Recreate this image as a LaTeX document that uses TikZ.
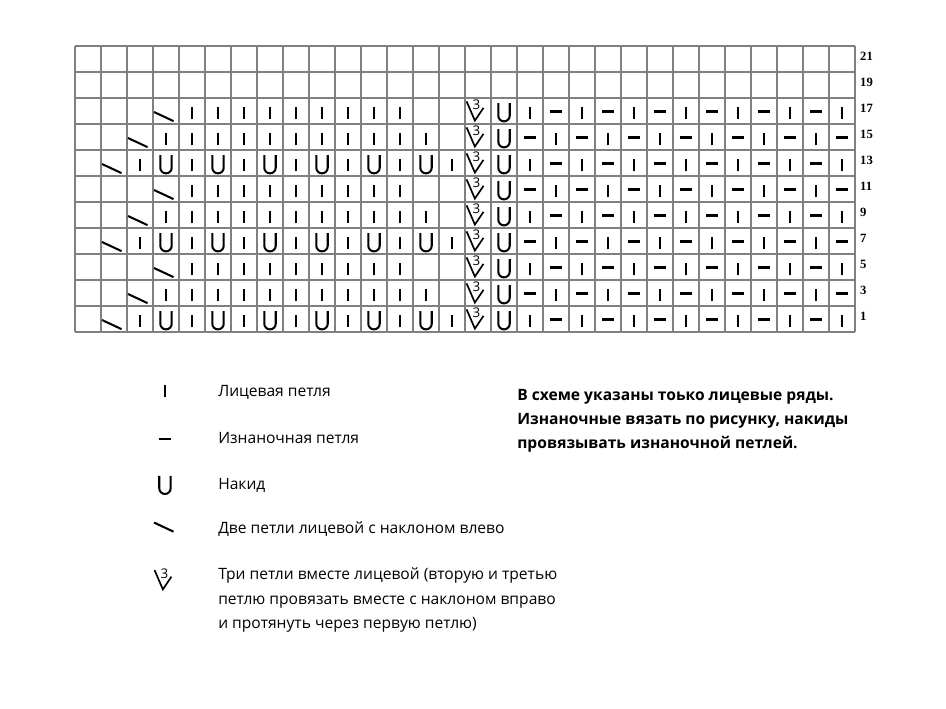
\documentclass[tikz,border=0pt]{standalone}
\usepackage{fontspec}
\setmainfont{Open Sans}
\newfontfamily\numfont{Liberation Serif}
\definecolor{gridgray}{RGB}{128,128,128}

\tikzset{
	sym/.style={line width=1.45pt},
	gridline/.style={draw=gridgray, line width=1.2pt},
	rownum/.style={anchor=west, inner sep=0pt, font=\numfont\bfseries\fontsize{9}{9}\selectfont},
	legtext/.style={anchor=base west, inner sep=0pt, font=\fontsize{11.1}{13}\selectfont},
	notetext/.style={anchor=base west, inner sep=0pt, font=\bfseries\fontsize{11.1}{13}\selectfont},
	% one symbol per cell, origin in the lower left corner of the cell
	knit/.pic={\draw[sym] (0.5,0.18) -- (0.5,0.66);},
	purl/.pic={\draw[sym] (0.26,0.48) -- (0.74,0.48);},
	yarnover/.pic={\draw[sym] (0.28,0.8) -- (0.28,0.32) arc (180:360:0.22) -- (0.72,0.8);},
	ktwoleft/.pic={\draw[sym] (0.04,0.46) -- (0.79,0.11);},
	kthree/.pic={
		\draw[sym, line width=1.2pt] (0.06,0.87) -- (0.38,0.13) -- (0.71,0.62);
		\node[inner sep=0pt, font=\fontsize{9.5}{9.5}\selectfont] (-three) at (0.44,0.74) {3};
	}
}

\begin{document}
\begin{tikzpicture}[x=0.65cm, y=0.65cm]

	\useasboundingbox (-2.885,-14.462) rectangle (33.5,12.769);

	% chart grid, 30 stitches x 11 rows
	\draw[gridline, step=1] (0,0) grid (30,11);

	% row numbers
	\foreach \j in {0,...,10} {
		\pgfmathtruncatemacro{\n}{2*\j+1}
		\node[rownum] (row\n) at (30.19,\j+0.6) {\n};
	}

	% pattern rows 1 to 17 (rows 19 and 21 stay empty)
	\foreach \j in {0,...,8} {
		\pgfmathtruncatemacro{\s}{1+mod(\j,3)}
		\pgfmathtruncatemacro{\a}{\s+1}
		\pgfmathtruncatemacro{\e}{15-\s}
		\pic at (\s,\j) {ktwoleft};
		\foreach \i in {\a,...,\e} {
			\pgfmathtruncatemacro{\u}{(\s==1)*mod(\i,2)}
			\ifnum\u=1 \pic at (\i,\j) {yarnover}; \else \pic at (\i,\j) {knit}; \fi
		}
		\pic (dec\j) at (15,\j) {kthree};
		\pic at (16,\j) {yarnover};
		\foreach \i in {17,...,29} {
			\pgfmathtruncatemacro{\p}{mod(\i+\j,2)}
			\ifnum\p=1 \pic at (\i,\j) {knit}; \else \pic at (\i,\j) {purl}; \fi
		}
	}

	% legend symbols
	\pic at (2.96,-2.68) {knit};
	\pic at (2.96,-4.61) {purl};
	\pic at (2.96,-6.33) {yarnover};
	\pic at (3.0,-7.79) {ktwoleft};
	\pic (legdec) at (3.0,-10.03) {kthree};

	% legend texts
	\node[legtext] (lknit) at (5.5,-2.5) {Лицевая петля};
	\node[legtext] (lpurl) at (5.5,-4.288) {Изнаночная петля};
	\node[legtext] (lyo) at (5.5,-6.077) {Накид};
	\node[legtext] (lktwo) at (5.5,-7.769) {Две петли лицевой с наклоном влево};
	\node[legtext] (lkthreea) at (5.5,-9.538) {Три петли вместе лицевой (вторую и третью};
	\node[legtext] (lkthreeb) at (5.5,-10.481) {петлю провязать вместе с наклоном вправо};
	\node[legtext] (lkthreec) at (5.5,-11.423) {и протянуть через первую петлю)};

	% note
	\node[notetext] (notea) at (17.0,-2.635) {В схеме указаны тоько лицевые ряды.};
	\node[notetext] (noteb) at (17.0,-3.558) {Изнаночные вязать по рисунку, накиды};
	\node[notetext] (notec) at (17.0,-4.481) {провязывать изнаночной петлей.};

\end{tikzpicture}
\end{document}
